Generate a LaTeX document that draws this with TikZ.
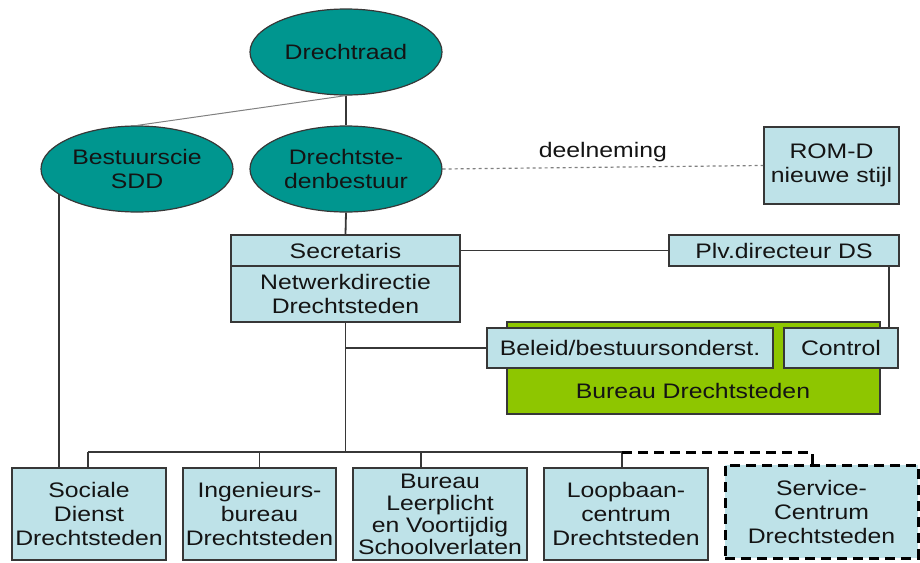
\documentclass[tikz,border=0pt]{standalone}
\usepackage{fontspec}
\setmainfont[FakeStretch=1.18]{Liberation Sans}
\usetikzlibrary{positioning}
\usetikzlibrary{shapes.geometric}
\usetikzlibrary{calc}

\definecolor{orgteal}{RGB}{0,150,143}
\definecolor{orgblue}{RGB}{190,226,232}
\definecolor{orggreen}{RGB}{142,198,0}
\definecolor{orgline}{RGB}{55,55,55}
\definecolor{orgtext}{RGB}{20,20,20}

\tikzset{
    orgtext/.style={font=\fontsize{21}{24}\selectfont, text=orgtext, align=center},
    bodyoval/.style={orgtext, ellipse, draw=orgline, line width=1.2pt, fill=orgteal, minimum width=192pt, minimum height=86pt, inner sep=0pt},
    unitbox/.style={orgtext, rectangle, draw=orgline, line width=1.8pt, fill=orgblue, inner sep=0pt},
    conn/.style={draw=orgline, line width=1.8pt},
    futureline/.style={draw=black, line width=3pt, dash pattern=on 10pt off 6pt}
}

\begin{document}
\begin{tikzpicture}[x=1pt, y=-1pt]
        \useasboundingbox (0,0) rectangle (920,562);

        \node[bodyoval, name=raad] at (346,52) {Drechtraad};
        \node[bodyoval, name=bsdd] at (137,169) {Bestuurscie\\SDD};
        \node[bodyoval, name=dsb] at (346,169) {Drechtste-\\denbestuur};

        \node[unitbox, minimum width=135pt, minimum height=77pt, name=romd] at (831.5,165.5) {ROM-D\\nieuwe stijl};

        \node[unitbox, minimum width=229pt, minimum height=31pt, name=secr] at (345.5,250.5) {Secretaris};
        \node[unitbox, minimum width=229pt, minimum height=56pt, below=-1.8pt of secr, name=netw] {Netwerkdirectie\\Drechtsteden};
        \node[unitbox, minimum width=230pt, minimum height=31pt, name=plv] at (784,250.5) {Plv.directeur DS};

        % bureau drechtsteden
        \node[draw=orgline, line width=1.8pt, fill=orggreen, minimum width=373pt, minimum height=92pt, name=bds] at (693.5,368) {};
        \node[orgtext, name=bdslabel] at (693,391) {Bureau Drechtsteden};
        \node[unitbox, minimum width=286pt, minimum height=40pt, name=beleid] at (630,348) {Beleid/bestuursonderst.};
        \node[unitbox, minimum width=114pt, minimum height=40pt, name=control] at (841,348) {Control};

        \node[unitbox, minimum width=154pt, minimum height=92pt, name=soc] at (89,514) {Sociale\\Dienst\\Drechtsteden};
        \node[unitbox, minimum width=153pt, minimum height=92pt, name=ing] at (259.5,514) {Ingenieurs-\\bureau\\Drechtsteden};
        \node[unitbox, minimum width=174pt, minimum height=92pt, font=\fontsize{21}{22}\selectfont, name=leer] at (440,514) {Bureau\\Leerplicht\\en Voortijdig\\Schoolverlaten};
        \node[unitbox, minimum width=164pt, minimum height=92pt, name=loop] at (626,514) {Loopbaan-\\centrum\\Drechtsteden};
        \node[unitbox, futureline, minimum width=193pt, minimum height=93pt, name=serv] at (821.5,511.5) {Service-\\Centrum\\Drechtsteden};

        % connectors
        \draw[conn] (raad.south) -- (dsb.north);
        \draw[draw=gray, line width=1pt] (raad.south) -- (bsdd.north);
        \draw[draw=gray, line width=1.2pt, dashed] (dsb.east) -- node[orgtext, above=1pt, name=deel] {deelneming} (romd.west);
        \draw[conn] (dsb.south) -- (secr.north);
        \draw[conn] (secr.east) -- (plv.west);
        \draw[conn] ([xshift=-10pt]control.north east) -- ([xshift=-10pt]control.north east |- plv.south);
        \draw[conn] (netw.south |- beleid.west) -- (beleid.west);
        \draw[conn] (bsdd.198) -- (bsdd.198 |- soc.north);

        \coordinate (busL) at (88,452);
        \coordinate (busR) at (622,452);
        \coordinate (busD) at (812,452);
        \draw[conn] (netw.south) -- (netw.south |- busL);
        \draw[conn] (busL) -- (busR);
        \draw[conn] (busL) -- (busL |- soc.north);
        \draw[conn] (ing.north) -- (ing.north |- busL);
        \draw[conn] ([xshift=-19pt]leer.north) -- ([xshift=-19pt]leer.north |- busL);
        \draw[conn] (busR) -- (busR |- loop.north);
        \draw[futureline] (busR) -- (busD) -- (busD |- serv.north);
\end{tikzpicture}
\end{document}
